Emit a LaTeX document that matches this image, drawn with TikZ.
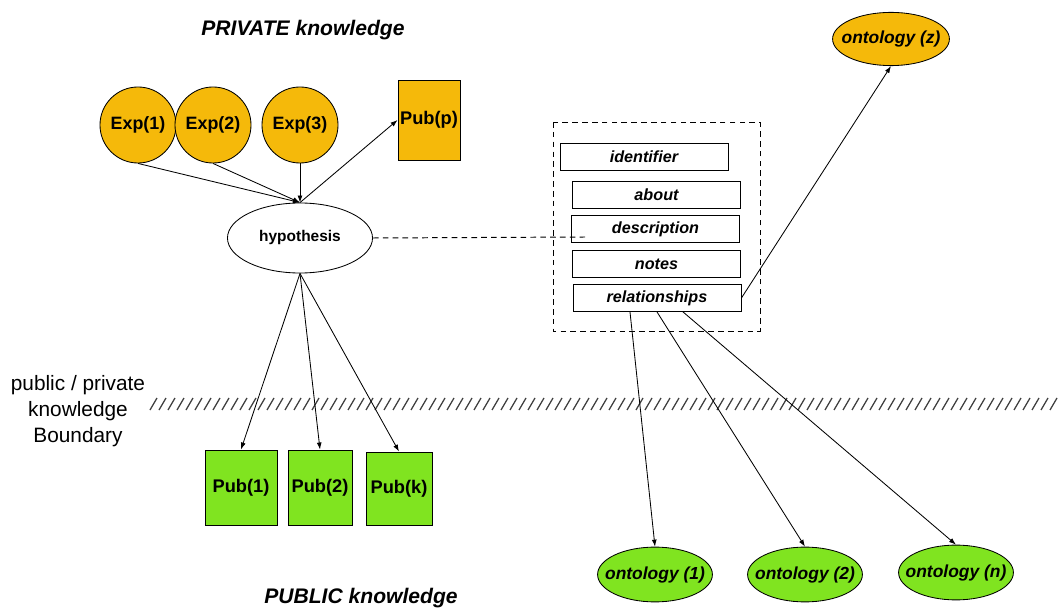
\documentclass[tikz,border=0pt]{standalone}
\usepackage{fontspec}
\setmainfont{Liberation Sans}
\usetikzlibrary{arrows.meta, positioning, shapes.geometric, calc}
\definecolor{expgold}{RGB}{245,185,10}
\definecolor{pubgreen}{RGB}{128,228,32}

\begin{document}
\begin{tikzpicture}[x=0.025cm, y=-0.025cm, line width=0.6pt,
    exp/.style={circle, draw, fill=expgold, minimum size=1.9cm, inner sep=0pt,
                font=\fontsize{12.7}{14}\selectfont\bfseries},
    pub/.style={rectangle, draw, inner sep=0pt, font=\fontsize{13}{15}\selectfont\bfseries},
    field/.style={rectangle, draw, minimum width=4.2cm, minimum height=0.675cm, inner sep=0pt,
                  font=\fontsize{11.5}{13}\selectfont\bfseries\itshape},
    onto/.style={ellipse, draw, minimum width=2.87cm, minimum height=1.37cm, inner sep=0pt,
                 inner xsep=-0.3cm, font=\fontsize{12.4}{14}\selectfont\bfseries\itshape},
    link/.style={-{Latex[length=5pt,width=3.5pt]}},
    title/.style={font=\fontsize{15}{18}\selectfont\bfseries\itshape}]

  \useasboundingbox (0,0) rectangle (1060,610);

  % private side
  \node[title] (privtitle) at (303,30) {PRIVATE knowledge};
  \node[exp] (exp1) at (138,125) {Exp(1)};
  \node[exp] (exp2) at (213,125) {Exp(2)};
  \node[exp] (exp3) at (300,125) {Exp(3)};
  \node[pub, fill=expgold, minimum width=1.55cm, minimum height=2cm] (pubp) at (429,120) {Pub(p)};
  \node[ellipse, draw, fill=white, minimum width=3.625cm, minimum height=1.75cm, inner sep=0pt,
        font=\fontsize{11}{13}\selectfont\bfseries] (hyp) at (300,238) {hypothesis};

  \draw[link] (exp1.south) -- (hyp.north);
  \draw[link] (exp2.south) -- (hyp.north);
  \draw[link] (exp3.south) -- (hyp.north);
  \draw[link] (hyp.north) -- (pubp.west);

  % record of the hypothesis
  \node[field] (ident) at (644,156.5) {identifier};
  \node[field] (about) at (656.5,194.5) {about};
  \node[field] (desc) at (655.5,229) {description};
  \node[field] (notes) at (656.5,264) {notes};
  \node[field] (rel) at (657,298) {relationships};
  \draw[dashed, dash pattern=on 4pt off 3pt, line width=0.7pt] (553,122) rectangle (760,331);

  \coordinate (descin) at (585,237);
  \draw[dashed, dash pattern=on 4pt off 3pt, line width=0.7pt] (hyp.east) -- (descin);

  % boundary
  \node[align=center, font=\fontsize{14.8}{18.4}\selectfont] (bound) at (78,411)
       {public / private\\knowledge\\Boundary};
  \foreach \x in {150,159,...,1050}
    \draw[gray!50!black, line width=0.9pt] (\x,410) -- ++(7,-12);

  % public side
  \node[pub, fill=pubgreen, minimum width=1.8cm, minimum height=1.875cm] (pub1) at (241,487.5) {Pub(1)};
  \node[pub, fill=pubgreen, minimum width=1.6cm, minimum height=1.875cm] (pub2) at (320,487.5) {Pub(2)};
  \node[pub, fill=pubgreen, minimum width=1.65cm, minimum height=1.825cm] (pubk) at (399,488.5) {Pub(k)};

  \draw[link] (hyp.south) -- (pub1.north);
  \draw[link] (hyp.south) -- (pub2.north);
  \draw[link] (hyp.south) -- (pubk.north);

  % ontologies
  \node[onto, fill=expgold, minimum width=2.92cm, minimum height=1.33cm] (ontz) at (891,39) {ontology (z)};
  \node[onto, fill=pubgreen] (ont1) at (655,574.5) {ontology (1)};
  \node[onto, fill=pubgreen] (ont2) at (805,574.5) {ontology (2)};
  \node[onto, fill=pubgreen] (ontn) at (956,572.5) {ontology (n)};

  \draw[link] (rel.east) -- (ontz.south);
  \draw[link] ([xshift=-0.675cm]rel.south) -- (ont1.north);
  \draw[link] (rel.south) -- (ont2.north);
  \draw[link] ([xshift=0.65cm]rel.south) -- (ontn.north);

  \node[title] (pubtitle) at (361,598) {PUBLIC knowledge};
\end{tikzpicture}
\end{document}
